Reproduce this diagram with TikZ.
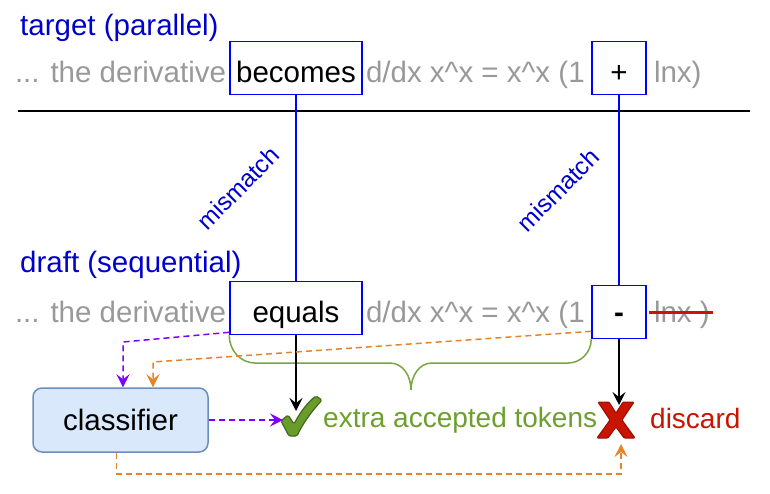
\documentclass[tikz,border=0pt]{standalone}
\usepackage{fontspec}
\setmainfont{Liberation Sans}
\usetikzlibrary{arrows.meta,positioning}

\definecolor{tokblue}{HTML}{0000FF}
\definecolor{lblblue}{HTML}{0000CC}
\definecolor{txtgray}{HTML}{999999}
\definecolor{dashpurple}{HTML}{7F00FF}
\definecolor{dashorange}{HTML}{E6842A}
\definecolor{accgreen}{HTML}{6D9F2E}
\definecolor{bracegreen}{HTML}{7AA540}
\definecolor{chkfill}{HTML}{6A9C2C}
\definecolor{chkline}{HTML}{3F6A19}
\definecolor{rejred}{HTML}{C81400}
\definecolor{rejline}{HTML}{9A0D00}
\definecolor{clsfill}{HTML}{DAE8FC}
\definecolor{clsline}{HTML}{6C8EBF}

\begin{document}
\begin{tikzpicture}[x=1pt,y=-1pt,
  bigfont/.style={font=\fontsize{29.5}{34}\selectfont},
  graytxt/.style={bigfont, text=txtgray, inner sep=0pt},
  rowlbl/.style={bigfont, text=lblblue, anchor=base west, inner sep=0pt},
  tokbox/.style={bigfont, draw=tokblue, line width=1.6pt, fill=white,
    minimum height=53pt, text height=28pt, text depth=0pt, inner sep=0pt, anchor=base},
  mmlbl/.style={font=\fontsize{24.5}{28}\selectfont, text=lblblue, rotate=45, inner sep=0pt},
  arrowtip/.style={-{Stealth[length=13pt,width=13pt,inset=5pt]}},
  solidarr/.style={line width=1.5pt, arrowtip},
  dasharr/.style={line width=1.5pt, dash pattern=on 6pt off 4pt, arrowtip}]

  \useasboundingbox (0,0) rectangle (770,493);

  % target row
  \node[rowlbl] (tgt) at (20,35) {target (parallel)};
  \node[tokbox, minimum width=132pt] (becomes) at (296,82) {becomes};
  \node[graytxt, anchor=base east] (pre1) at ([xshift=-3pt]becomes.base west) {... the derivative};
  \node[graytxt, anchor=base west] (mid1) at ([xshift=3pt]becomes.base east) {d/dx x\textasciicircum x = x\textasciicircum x (1};
  \node[tokbox, minimum width=54pt] (plus) at (619,82) {+};
  \node[graytxt, anchor=base west] (post1) at ([xshift=7pt]plus.base east) {lnx)};

  \draw[line width=1.5pt] (18,111) -- (750,111);

  % draft row
  \node[rowlbl] (drf) at (20,272) {draft (sequential)};
  \node[tokbox, minimum width=132pt] (equals) at (296,322) {equals};
  \node[graytxt, anchor=base east] (pre2) at ([xshift=-3pt]equals.base west) {... the derivative};
  \node[graytxt, anchor=base west] (mid2) at ([xshift=3pt]equals.base east) {d/dx x\textasciicircum x = x\textasciicircum x (1};
  \node[tokbox, minimum width=54pt, text height=20pt] (minus) at (619,322) {\textbf{-}};
  \node[graytxt, anchor=base west] (post2) at ([xshift=7pt]minus.base east) {lnx )};
  \draw[rejred, line width=3pt] ([xshift=-5pt,yshift=2pt]post2.west) -- ([xshift=3pt,yshift=2pt]post2.east);

  % mismatch links
  \draw[tokblue, line width=1.5pt] (becomes.south) -- node[xshift=-58pt, mmlbl] {mismatch} (equals.north);
  \draw[tokblue, line width=1.5pt] (plus.south) -- node[xshift=-61pt, mmlbl] {mismatch} (minus.north);

  % brace over the accepted span
  \draw[bracegreen, line width=1.5pt] (equals.south west) to[out=-90,in=180] (255,363) -- (390,363)
    to[out=0,in=90] (411,390) to[out=90,in=180] (432,363) -- (568,363) to[out=0,in=-90] (minus.south west);

  % classifier and outcomes
  \node[bigfont, draw=clsline, fill=clsfill, rounded corners=9pt, line width=1.5pt,
    minimum width=175pt, minimum height=64pt] (classifier) at (120.5,420) {classifier};

  \filldraw[fill=chkfill, draw=chkline, line width=1.2pt, rounded corners=1.5pt]
    (281,421) -- (288,415) -- (294,424) .. controls (301,411) and (308,402) .. (316,396)
    -- (322,400) .. controls (312,411) and (303,423) .. (297,436) -- (289,436) -- cycle;
  \node[font=\fontsize{28}{32}\selectfont, text=accgreen, anchor=base west, inner sep=0pt] (acc) at (323,427) {extra accepted tokens};

  \filldraw[fill=rejred, draw=rejline, line width=1pt, rounded corners=1pt]
    (598,402) -- (609,402) -- (616,413) -- (623,402) -- (634,402) -- (622,420) -- (635,438)
    -- (624,438) -- (616,427) -- (608,438) -- (597,438) -- (610,420) -- cycle;
  \node[font=\fontsize{28}{32}\selectfont, text=rejred, anchor=base west, inner sep=0pt] (disc) at (650,428) {discard};

  \coordinate (chkin) at (296,411);
  \coordinate (chkleft) at (283,420);
  \coordinate (xtop) at (619,405);
  \coordinate (xbot) at (621,444);
  \coordinate (pbend) at (123,342);
  \coordinate (obend) at (153,362);

  \draw[solidarr] (equals.south) -- (chkin);
  \draw[solidarr] (minus.south) -- (xtop);

  \draw[dasharr, dashpurple] ([yshift=3pt]equals.south west) -- (pbend) -- (pbend |- classifier.north);
  \draw[dasharr, dashorange] ([yshift=8pt]minus.south west) -- (obend) -- (obend |- classifier.north);
  \draw[dasharr, dashpurple] (classifier.east) -- (chkleft);
  \draw[dasharr, dashorange] ([xshift=-4pt]classifier.south) -- ++(0,21) -| (xbot);

\end{tikzpicture}
\end{document}
